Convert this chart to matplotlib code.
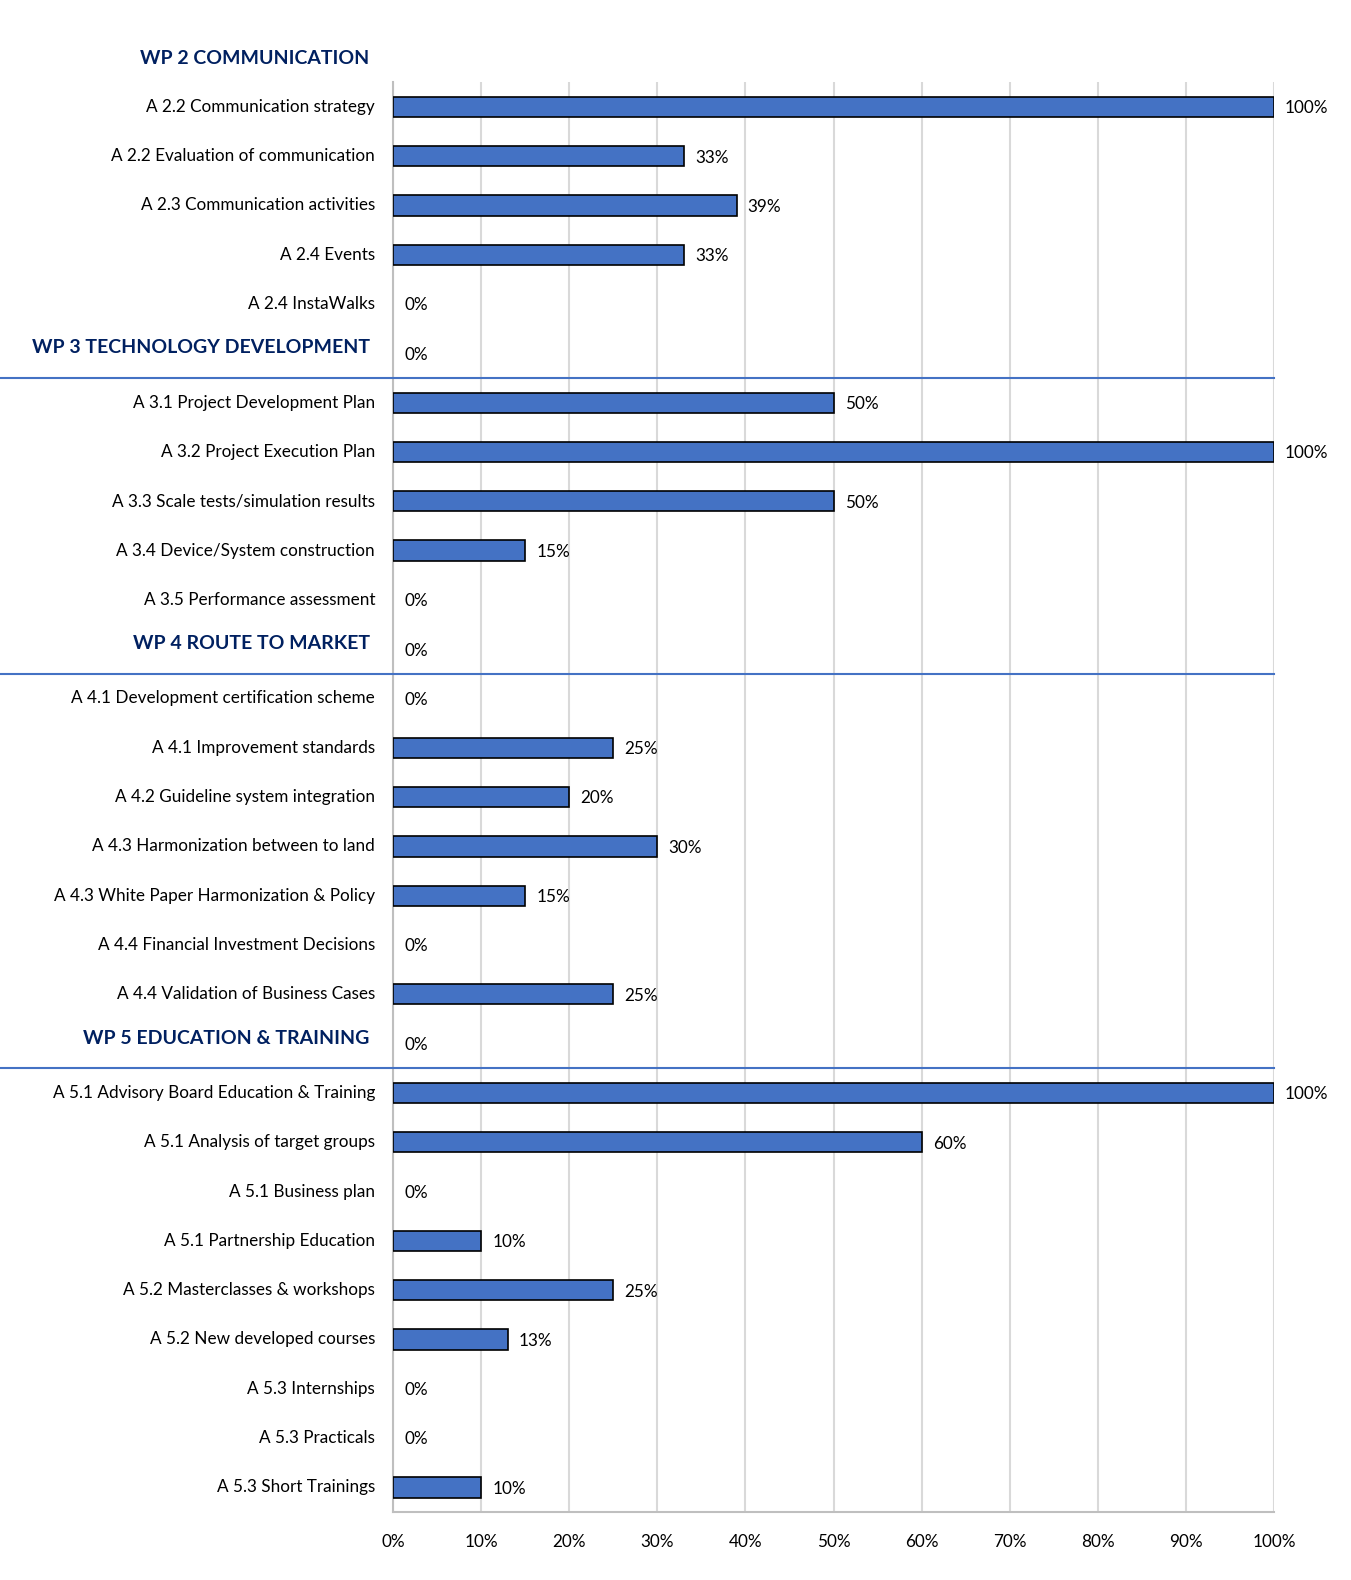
import numpy as np
import matplotlib.pyplot as plt
import matplotlib.transforms as mtransforms

plt.rcParams['font.family'] = ['Lato', 'DejaVu Sans']

top_header = "WP 2 COMMUNICATION"

labels = [
  "A 2.2 Communication strategy",
  "A 2.2 Evaluation of communication",
  "A 2.3 Communication activities",
  "A 2.4 Events",
  "A 2.4 InstaWalks",
  "WP 3 TECHNOLOGY DEVELOPMENT",
  "A 3.1 Project Development Plan",
  "A 3.2 Project Execution Plan",
  "A 3.3 Scale tests/simulation results",
  "A 3.4 Device/System construction",
  "A 3.5 Performance assessment",
  "WP 4 ROUTE TO MARKET",
  "A 4.1 Development certification scheme",
  "A 4.1 Improvement standards",
  "A 4.2 Guideline system integration",
  "A 4.3 Harmonization between to land",
  "A 4.3 White Paper Harmonization & Policy",
  "A 4.4 Financial Investment Decisions",
  "A 4.4 Validation of Business Cases",
  "WP 5 EDUCATION & TRAINING",
  "A 5.1 Advisory Board Education & Training",
  "A 5.1 Analysis of target groups",
  "A 5.1 Business plan",
  "A 5.1 Partnership Education",
  "A 5.2 Masterclasses & workshops",
  "A 5.2 New developed courses",
  "A 5.3 Internships",
  "A 5.3 Practicals",
  "A 5.3 Short Trainings",
]

progress = [100, 33, 39, 33, 0,
            0,
            50, 100, 50, 15, 0,
            0,
            0, 25, 20, 30, 15, 0, 25,
            0,
            100, 60, 0, 10, 25, 13, 0, 0, 10]

x_ticks = [0, 10, 20, 30, 40, 50, 60, 70, 80, 90, 100]

bar_color = '#4472C4'
header_color = '#002060'
grid_color = '#D9D9D9'

fig = plt.figure(figsize=(13.51, 15.80), dpi=100)
ax = fig.add_axes([0.291, 0.043, 0.652, 0.905])

y = np.arange(len(labels))
vals = np.array(progress)
# Excel draws nothing for zero-length bars
lw = [1.2 if v > 0 else 0 for v in progress]
ax.barh(y, vals, height=0.41, color=bar_color, edgecolor='black', linewidth=lw, zorder=3)

ax.set_xlim(0, 100)
ax.set_ylim(len(labels) - 0.5, -0.5)
ax.set_xticks(x_ticks)
ax.set_xticklabels([f"{t}%" for t in x_ticks], fontsize=12.3)
ax.tick_params(axis='x', length=0, pad=16)
ax.set_yticks([])
ax.grid(axis='x', color=grid_color, linewidth=1.5, zorder=0)

for s in ['top', 'right']:
  ax.spines[s].set_visible(False)
ax.spines['left'].set_color('#BFBFBF')
ax.spines['left'].set_linewidth(1.5)
ax.spines['bottom'].set_color('#BFBFBF')
ax.spines['bottom'].set_linewidth(1.5)

# category labels
for i, lab in enumerate(labels):
  if lab.startswith("WP"):
    ax.annotate(lab, (0, i), xytext=(-17, 4), textcoords='offset points',
                ha='right', va='center', fontsize=14, fontweight='bold',
                color=header_color, annotation_clip=False)
  else:
    ax.annotate(lab, (0, i), xytext=(-13, 0), textcoords='offset points',
                ha='right', va='center', fontsize=12.3, color='black',
                annotation_clip=False)

ax.annotate(top_header, (0, -1), xytext=(-17, -1), textcoords='offset points',
            ha='right', va='center', fontsize=14, fontweight='bold',
            color=header_color, annotation_clip=False)

# value labels
for i, v in enumerate(progress):
  ax.annotate(f"{v}%", (v, i), xytext=(8, -1), textcoords='offset points',
              ha='left', va='center', fontsize=12.3, annotation_clip=False)

# separator lines under each WP header
trans = mtransforms.blended_transform_factory(fig.transFigure, ax.transData)
for i, lab in enumerate(labels):
  if lab.startswith("WP"):
    ax.plot([0, 0.943], [i + 0.5, i + 0.5], color=bar_color, linewidth=1.5,
            transform=trans, clip_on=False, zorder=4)

fig.savefig("out.png", dpi=100)
